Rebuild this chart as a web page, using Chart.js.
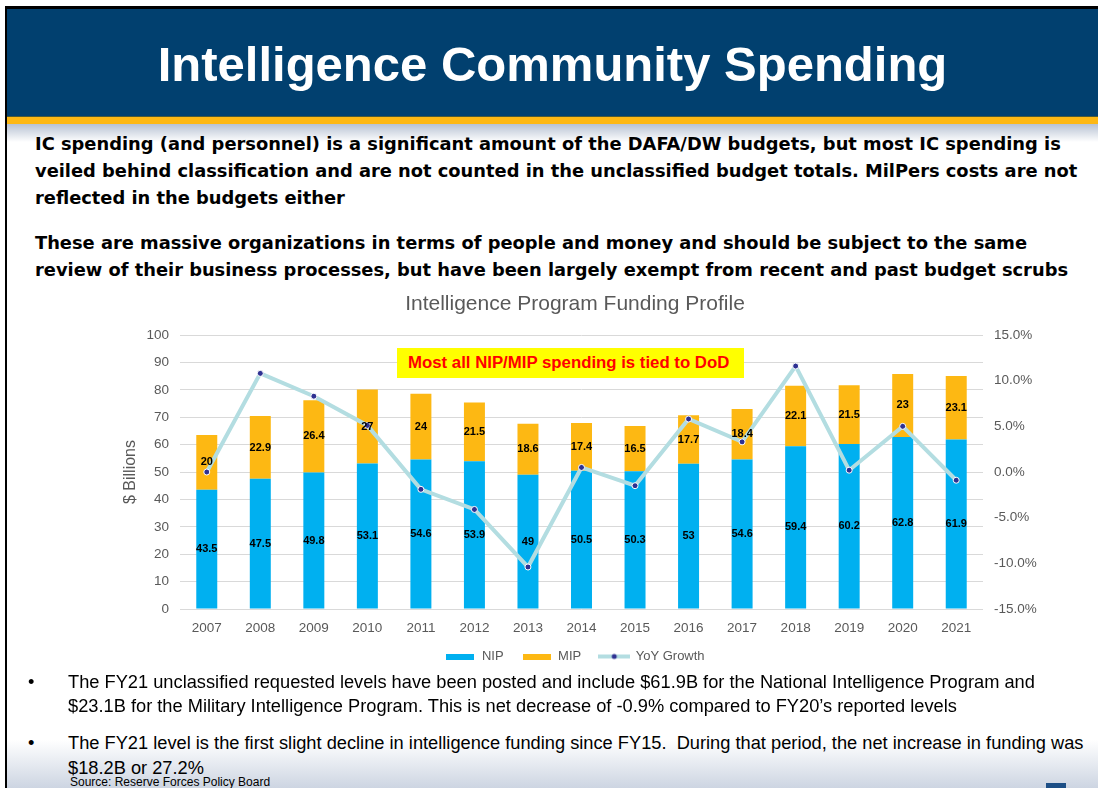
<!DOCTYPE html>
<html lang="en">
<head>
<meta charset="UTF-8">
<title>Intelligence Community Spending</title>
<style>
  body {
    margin: 0;
    width: 1098px;
    height: 788px;
    position: relative;
    overflow: hidden;
    background: #fff;
    font-family: Arial, "Liberation Sans", sans-serif;
  }
  .topline { position: absolute; left: 5px; top: 6px; right: 0; height: 3px; background: #000; }
  .leftline { position: absolute; left: 5px; top: 6px; width: 2px; bottom: 0; background: #000; z-index: 3; }
  .header { position: absolute; left: 7px; top: 9px; right: 0; height: 107px; background: #01406f; }
  .header h1 {
    position: absolute; left: 0; right: 0; top: 31px; margin: 0;
    text-align: center; color: #fff; font-size: 49px; line-height: 49px; font-weight: bold;
  }
  .stripe { position: absolute; left: 7px; right: 0; top: 116px; height: 8px; background: #fdb814; border-top: 1px solid #4a5a3a; box-sizing: border-box; }
  .band { position: absolute; left: 7px; right: 0; top: 124px; height: 18px; background: linear-gradient(#b7c2d3, #ffffff); }
  .bottomband { position: absolute; left: 7px; right: 0; top: 740px; height: 48px; background: linear-gradient(#ffffff, #cdd5e2); }
  .para {
    position: absolute; left: 35px; margin: 0; white-space: nowrap;
    font-family: "DejaVu Sans", Verdana, sans-serif; font-weight: bold; font-size: 17.85px; color: #000;
  }
  .bullet {
    position: absolute; left: 68px; margin: 0; white-space: nowrap;
    font-size: 18.25px; line-height: 24px; color: #000;
  }
  .bullet::before { content: "\2022"; position: absolute; left: -40px; }
  .source { position: absolute; left: 70px; top: 775px; font-size: 12px; line-height: 14px; color: #000; }
  #chartBox { position: absolute; left: 100px; top: 288px; width: 950px; height: 385px; }
  .note {
    position: absolute; left: 397px; top: 348px; width: 347px; height: 30px; box-sizing: border-box;
    padding-left: 11px; background: #ffff00; color: #ff0000; font-weight: bold; font-size: 16.8px; line-height: 30px;
    white-space: nowrap; z-index: 2;
  }
  .logo { position: absolute; left: 1046px; top: 783px; width: 20px; height: 5px; background: #1d4f86; }
</style>
<script src="https://cdn.jsdelivr.net/npm/chart.js"></script>
</head>
<body>
  <div class="topline"></div>
  <div class="header"><h1>Intelligence Community Spending</h1></div>
  <div class="stripe"></div>
  <div class="band"></div>
  <div class="bottomband"></div>
  <div class="leftline"></div>

  <p class="para" style="top:130px; line-height:27px;">IC spending (and personnel) is a significant amount of the DAFA/DW budgets, but most IC spending is<br>veiled behind classification and are not counted in the unclassified budget totals. MilPers costs are not<br>reflected in the budgets either</p>
  <p class="para" style="top:230px; line-height:26.5px;">These are massive organizations in terms of people and money and should be subject to the same<br>review of their business processes, but have been largely exempt from recent and past budget scrubs</p>

  <div id="chartBox"><canvas id="fundingChart"></canvas></div>
  <div class="note">Most all NIP/MIP spending is tied to DoD</div>

  <p class="bullet" style="top:670px;">The FY21 unclassified requested levels have been posted and include $61.9B for the National Intelligence Program and<br>$23.1B for the Military Intelligence Program. This is net decrease of -0.9% compared to FY20’s reported levels</p>
  <p class="bullet" style="top:730px; line-height:25px;">The FY21 level is the first slight decline in intelligence funding since FY15.&nbsp; During that period, the net increase in funding was<br>$18.2B or 27.2%</p>
  <div class="source">Source: Reserve Forces Policy Board</div>
  <div class="logo"></div>

<script>
// data
const years = ['2007', '2008', '2009', '2010', '2011', '2012', '2013', '2014', '2015', '2016', '2017', '2018', '2019', '2020', '2021'];
const nip = [43.5, 47.5, 49.8, 53.1, 54.6, 53.9, 49, 50.5, 50.3, 53, 54.6, 59.4, 60.2, 62.8, 61.9];
const mip = [20, 22.9, 26.4, 27, 24, 21.5, 18.6, 17.4, 16.5, 17.7, 18.4, 22.1, 21.5, 23, 23.1];
const yoyGrowth = [0.0, 10.8, 8.3, 5.1, -1.9, -4.1, -10.4, 0.5, -1.5, 5.8, 3.3, 11.6, 0.2, 5.0, -0.9];
const billionsAxis = { min: 0, max: 100, step: 10 };
const growthAxis = { min: -15, max: 15, step: 5 };

const nipColor = '#00b0f0';
const mipColor = '#fdb813';
const lineColor = '#b3dde1';
const dotColor = '#2e3192';
const grey = '#595959';

Chart.defaults.font.family = 'Arial, "Liberation Sans", sans-serif';

// small legend swatches
function swatch(w, h, draw) {
  const c = document.createElement('canvas');
  c.width = w;
  c.height = h;
  draw(c.getContext('2d'));
  return c;
}
const nipSwatch = swatch(28, 6, g => { g.fillStyle = nipColor; g.fillRect(0, 0, 28, 6); });
const mipSwatch = swatch(28, 6, g => { g.fillStyle = mipColor; g.fillRect(0, 0, 28, 6); });
const lineSwatch = swatch(32, 8, g => {
  g.strokeStyle = lineColor; g.lineWidth = 4;
  g.beginPath(); g.moveTo(0, 4); g.lineTo(32, 4); g.stroke();
  g.fillStyle = dotColor;
  g.beginPath(); g.arc(16, 4, 2.5, 0, Math.PI * 2); g.fill();
});
const swatches = [nipSwatch, mipSwatch, lineSwatch];

// values in the middle of each bar segment
const segmentLabels = {
  id: 'segmentLabels',
  afterDatasetsDraw(chart) {
    const ctx = chart.ctx;
    ctx.save();
    ctx.font = 'bold 11px Arial, "Liberation Sans", sans-serif';
    ctx.fillStyle = '#000';
    ctx.textAlign = 'center';
    ctx.textBaseline = 'middle';
    chart.data.datasets.forEach((ds, i) => {
      if (ds.type !== 'bar') return;
      chart.getDatasetMeta(i).data.forEach((bar, j) => {
        ctx.fillText(String(ds.data[j]), bar.x, (bar.y + bar.base) / 2);
      });
    });
    ctx.restore();
  }
};

new Chart(document.getElementById('fundingChart'), {
  data: {
    labels: years,
    datasets: [
      {
        type: 'bar', label: 'NIP', data: nip, backgroundColor: nipColor,
        yAxisID: 'y', order: 1, categoryPercentage: 0.8, barPercentage: 0.49
      },
      {
        type: 'bar', label: 'MIP', data: mip, backgroundColor: mipColor,
        yAxisID: 'y', order: 1, categoryPercentage: 0.8, barPercentage: 0.49
      },
      {
        type: 'line', label: 'YoY Growth', data: yoyGrowth, yAxisID: 'y1', order: 0,
        borderColor: lineColor, borderWidth: 4, tension: 0,
        pointRadius: 3, pointBackgroundColor: dotColor, pointBorderColor: '#ffffff', pointBorderWidth: 1
      }
    ]
  },
  options: {
    responsive: true,
    maintainAspectRatio: false,
    animation: false,
    plugins: {
      title: {
        display: true,
        text: 'Intelligence Program Funding Profile',
        color: grey,
        font: { size: 21, weight: 'normal' },
        padding: { top: 3.5, bottom: 18.3 }
      },
      legend: {
        position: 'bottom',
        labels: {
          color: grey,
          font: { size: 13 },
          usePointStyle: true,
          pointStyleWidth: 30,
          padding: 18,
          sort: (a, b) => a.datasetIndex - b.datasetIndex,
          generateLabels(chart) {
            const items = Chart.defaults.plugins.legend.labels.generateLabels(chart);
            items.forEach(it => { it.pointStyle = swatches[it.datasetIndex]; });
            return items;
          }
        }
      },
      tooltip: { enabled: false }
    },
    scales: {
      x: {
        stacked: true,
        grid: { display: false, drawTicks: false },
        border: { display: false },
        ticks: { color: grey, font: { size: 13.5 }, padding: 11 },
        afterFit: s => { s.height = 23; }
      },
      y: {
        stacked: true,
        position: 'left',
        min: billionsAxis.min,
        max: billionsAxis.max,
        grid: { color: '#d9d9d9', drawTicks: false },
        border: { display: false },
        ticks: { stepSize: billionsAxis.step, color: grey, font: { size: 13.5 }, padding: 11 },
        title: { display: true, text: '$ Billions', color: grey, font: { size: 16 }, padding: { top: 21, bottom: 0 } },
        afterFit: s => { s.width = 80; }
      },
      y1: {
        position: 'right',
        min: growthAxis.min,
        max: growthAxis.max,
        grid: { drawOnChartArea: false, drawTicks: false },
        border: { display: false },
        ticks: { stepSize: growthAxis.step, color: grey, font: { size: 13.5 }, padding: 11, callback: v => v.toFixed(1) + '%' },
        afterFit: s => { s.width = 67; }
      }
    }
  },
  plugins: [segmentLabels]
});
</script>
</body>
</html>
